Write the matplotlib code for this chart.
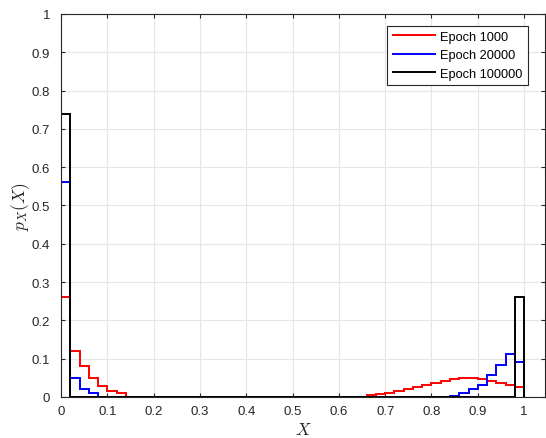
import numpy as np
import matplotlib
matplotlib.use('Agg')
import matplotlib.pyplot as plt
from matplotlib.ticker import FormatStrFormatter

plt.rcParams['font.family'] = ['Liberation Sans', 'DejaVu Sans']
plt.rcParams['mathtext.fontset'] = 'cm'

# bin edges of the histograms (width 0.02)
edges = np.linspace(0, 1, 51)

# probability per bin
p_1000 = [0.26, 0.12, 0.08, 0.05, 0.03, 0.015, 0.01] + [0.0] * 26 + \
         [0.004, 0.007, 0.011, 0.016, 0.021, 0.026, 0.031, 0.036, 0.042,
          0.046, 0.05, 0.05, 0.046, 0.042, 0.037, 0.031, 0.025]
p_20000 = [0.56, 0.05, 0.02, 0.01] + [0.0] * 38 + \
          [0.003, 0.01, 0.021, 0.031, 0.057, 0.084, 0.111, 0.091]
p_100000 = [0.74] + [0.0] * 48 + [0.26]

labels = ['Epoch 1000', 'Epoch 20000', 'Epoch 100000']
colors = ['#ff0000', '#0000ff', '#000000']
ticks = np.round(np.arange(0, 1.01, 0.1), 1)

fig = plt.figure(figsize=(5.46, 4.39), dpi=100)
ax = fig.add_axes([0.112, 0.0934, 0.886, 0.8726])

for vals, lab, col in zip([p_1000, p_20000, p_100000], labels, colors):
    ax.stairs(vals, edges, baseline=0, color=col, lw=1.4, label=lab)

ax.set_xlim(0, 1.045)
ax.set_ylim(0, 1)
ax.set_xticks(ticks)
ax.set_yticks(ticks)
ax.xaxis.set_major_formatter(FormatStrFormatter('%g'))
ax.yaxis.set_major_formatter(FormatStrFormatter('%g'))
ax.tick_params(direction='in', length=3, labelsize=9.5, colors='#262626',
               top=True, right=True)
ax.tick_params(axis='y', pad=8)
ax.tick_params(axis='x', pad=6)
ax.grid(True, color='#e6e6e6', lw=0.8)
ax.set_axisbelow(True)
for s in ax.spines.values():
    s.set_color('#262626')
    s.set_linewidth(0.8)

ax.set_xlabel('$X$', fontsize=12.5, color='#262626', labelpad=2.5)
ax.set_ylabel('$p_X(X)$', fontsize=12.5, color='#262626', labelpad=0)

leg = ax.legend(loc='upper right', bbox_to_anchor=(0.965, 0.969),
                fontsize=9.2, handlelength=3.3, handletextpad=0.45,
                fancybox=False, edgecolor='#262626', framealpha=1,
                borderaxespad=0.0, labelspacing=0.5, borderpad=0.4)
leg.get_frame().set_linewidth(0.8)

fig.savefig('out.png', dpi=100)
